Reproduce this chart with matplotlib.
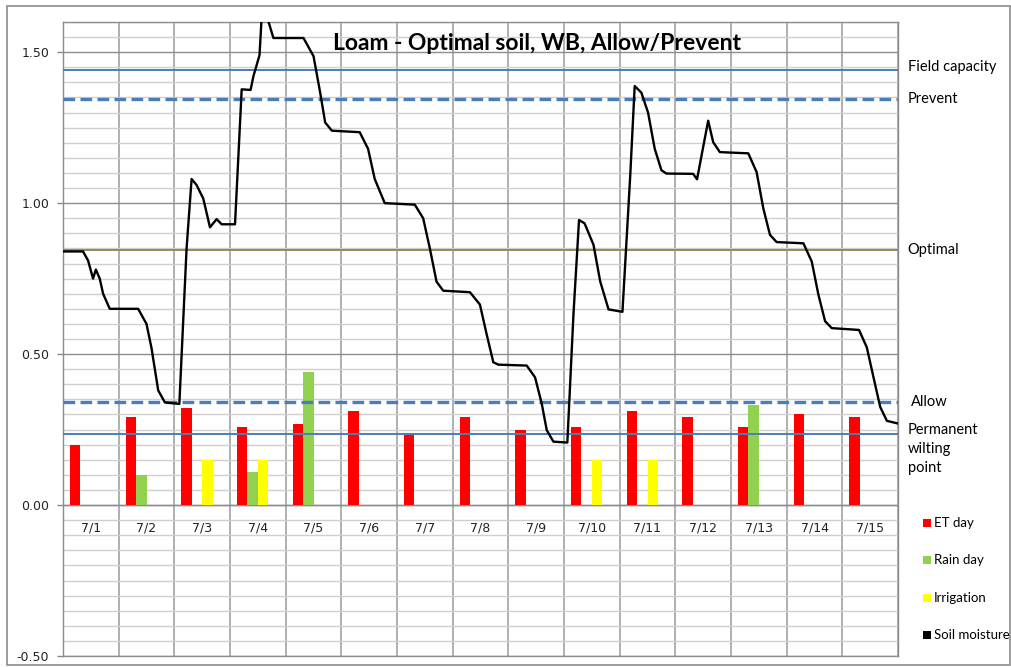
import numpy as np
import matplotlib.pyplot as plt
from matplotlib.patches import Rectangle

# categories and daily bars
days = ['7/1', '7/2', '7/3', '7/4', '7/5', '7/6', '7/7', '7/8',
        '7/9', '7/10', '7/11', '7/12', '7/13', '7/14', '7/15']
et_day = [0.20, 0.29, 0.32, 0.26, 0.27, 0.31, 0.24, 0.29,
          0.25, 0.26, 0.31, 0.29, 0.26, 0.30, 0.29]
rain_day = [0, 0.10, 0, 0.11, 0.44, 0, 0, 0, 0, 0, 0, 0, 0.33, 0, 0]
irrigation = [0, 0, 0.15, 0.15, 0, 0, 0, 0, 0, 0.15, 0.15, 0, 0, 0, 0]

# soil moisture trace (time in days from start of 7/1)
sm_time = [0.00, 0.36, 0.45, 0.54, 0.59, 0.66, 0.72, 0.84, 1.35, 1.50, 1.59, 1.71, 1.83, 2.09,
           2.22, 2.31, 2.40, 2.52, 2.64, 2.76, 2.85, 3.09, 3.21, 3.37, 3.42, 3.53, 3.57, 3.66,
           3.78, 4.32, 4.50, 4.62, 4.71, 4.83, 5.33, 5.48, 5.60, 5.78, 6.32, 6.47, 6.59, 6.71,
           6.83, 7.31, 7.49, 7.61, 7.73, 7.82, 8.33, 8.48, 8.60, 8.69, 8.81, 9.06, 9.17, 9.27,
           9.37, 9.53, 9.65, 9.80, 10.05, 10.19, 10.27, 10.39, 10.51, 10.63, 10.75, 10.84, 11.32,
           11.39, 11.59, 11.68, 11.80, 12.31, 12.46, 12.58, 12.70, 12.82, 13.30, 13.45, 13.57,
           13.69, 13.81, 14.30, 14.44, 14.56, 14.68, 14.80, 15.00]
sm_value = [0.84, 0.84, 0.81, 0.75, 0.78, 0.75, 0.70, 0.65, 0.65, 0.60, 0.52, 0.38, 0.34, 0.335,
            0.85, 1.08, 1.06, 1.015, 0.92, 0.947, 0.93, 0.93, 1.377, 1.375, 1.42, 1.49, 1.62, 1.62,
            1.547, 1.547, 1.487, 1.366, 1.267, 1.24, 1.235, 1.18, 1.08, 1.0, 0.995, 0.95, 0.85, 0.74,
            0.71, 0.705, 0.664, 0.566, 0.473, 0.465, 0.462, 0.423, 0.336, 0.248, 0.21, 0.207, 0.632, 0.944,
            0.933, 0.862, 0.741, 0.648, 0.64, 1.092, 1.388, 1.366, 1.30, 1.18, 1.109, 1.098, 1.097,
            1.079, 1.273, 1.202, 1.169, 1.165, 1.103, 0.983, 0.895, 0.871, 0.867, 0.807, 0.697,
            0.609, 0.586, 0.58, 0.522, 0.423, 0.325, 0.279, 0.27]

# reference levels
levels = {'Field capacity': 1.44, 'Prevent': 1.345, 'Optimal': 0.845,
          'Allow': 0.34, 'Permanent\nwilting\npoint': 0.235}

W, H = 1011, 667
fig = plt.figure(figsize=(W / 100, H / 100), dpi=100)
ax = fig.add_axes([63 / W, 1 - 656 / H, (898 - 63) / W, (656 - 22) / H])

x = np.arange(len(days))
bw = 0.1875
ax.bar(x - 1.5 * bw, et_day, bw, color='#FF0000', zorder=3)
ax.bar(x - 0.5 * bw, rain_day, bw, color='#92D050', zorder=3)
ax.bar(x + 0.5 * bw, irrigation, bw, color='#FFFF00', zorder=3)

blue = '#4A7EBB'
ax.axhline(levels['Field capacity'], color=blue, lw=1.4, zorder=4)
ax.axhline(levels['Prevent'], color=blue, lw=2.4, dashes=(3.5, 1.6), zorder=4)
ax.axhline(levels['Optimal'], color='#948A54', lw=1.4, zorder=4)
ax.axhline(levels['Allow'], color=blue, lw=2.4, dashes=(3.5, 1.6), zorder=4)
ax.axhline(levels['Permanent\nwilting\npoint'], color=blue, lw=1.4, zorder=4)

ax.plot(np.array(sm_time) - 0.5, sm_value, color='black', lw=1.7, zorder=5,
        solid_joinstyle='round', solid_capstyle='round')

ax.set_xlim(-0.5, 14.5)
ax.set_ylim(-0.5, 1.6)
ax.set_yticks([-0.5, 0, 0.5, 1.0, 1.5])
ax.set_yticklabels(['-0.50', '0.00', '0.50', '1.00', '1.50'])
ax.set_yticks(np.arange(-0.5, 1.61, 0.05), minor=True)
ax.set_xticks(np.arange(-0.5, 14.6, 1))
ax.set_xticklabels([])
ax.tick_params(axis='x', length=0)
ax.tick_params(axis='y', which='major', length=4, width=1, color='#868686',
               pad=6, labelsize=9, labelcolor='#222222')
ax.tick_params(axis='y', which='minor', length=0)
ax.grid(axis='y', which='major', color='#8C8C8C', lw=1, zorder=0)
ax.grid(axis='y', which='minor', color='#CFCFCF', lw=1, zorder=0)
ax.grid(axis='x', which='major', color='#9A9A9A', lw=1.1, zorder=0)
ax.set_axisbelow(True)
for s in ax.spines.values():
    s.set_color('#8C8C8C')
    s.set_linewidth(1)
ax.axhline(0, color='#8C8C8C', lw=1, zorder=1)

for i, d in enumerate(days):
    ax.text(i, -0.075, d, ha='center', va='center', fontsize=9, color='#222222')

# right-hand level labels
lab_font = 'Lato'
for name, val in levels.items():
    dy = 0.012 if name == 'Field capacity' else 0
    if name.startswith('Permanent'):
        ax.annotate(name, xy=(1.0, val), xycoords=('axes fraction', 'data'),
                    xytext=(7, 8), textcoords='offset points', ha='left', va='top',
                    fontsize=10.5, family=lab_font, linespacing=1.45, annotation_clip=False)
    else:
        xo = 9 if name == 'Allow' else 7
        ax.annotate(name, xy=(1.0, val + dy), xycoords=('axes fraction', 'data'),
                    xytext=(xo, 0), textcoords='offset points', ha='left', va='center',
                    fontsize=10.5, family=lab_font, annotation_clip=False)

# legend
leg_names = ['ET day', 'Rain day', 'Irrigation', 'Soil moisture']
leg_colors = ['#FF0000', '#92D050', '#FFFF00', 'black']
leg_y = [523, 560, 598, 635]
for name, c, yy in zip(leg_names, leg_colors, leg_y):
    fig.add_artist(Rectangle((923 / W, 1 - (yy + 3.5) / H), 7.5 / W, 7.5 / H,
                             transform=fig.transFigure, color=c, lw=0))
    fig.text(934 / W, 1 - yy / H, name, ha='left', va='center', fontsize=9.5, family=lab_font)

fig.text(537 / W, 1 - 44 / H, 'Loam - Optimal soil, WB, Allow/Prevent', ha='center', va='center',
         fontsize=16.5, fontweight='bold', family=lab_font)

fig.add_artist(Rectangle((7 / W, 1 - 665 / H), (1009.5 - 7) / W, (665 - 6) / H,
                         transform=fig.transFigure, fill=False, edgecolor='#8C8C8C', lw=1.2))

fig.savefig('out.png', dpi=100)
